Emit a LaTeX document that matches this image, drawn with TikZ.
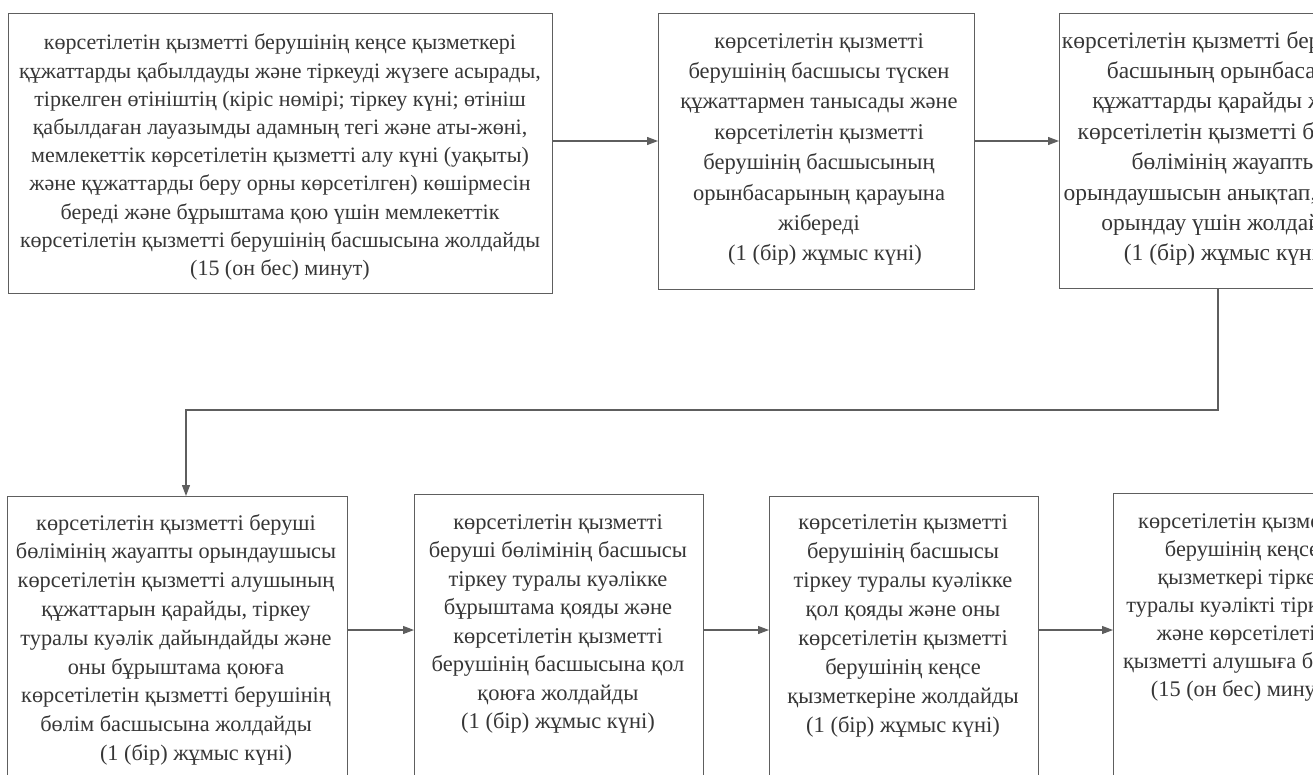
\documentclass[tikz,border=0pt]{standalone}
\usepackage{fontspec}
\setmainfont{Liberation Serif}
\usetikzlibrary{arrows.meta}
\definecolor{ln}{HTML}{5E5E5E}
\definecolor{tx}{HTML}{363636}
\begin{document}
\begin{tikzpicture}[x=1pt,y=-1pt,
  box/.style={draw=ln, line width=1.2pt, rectangle, anchor=north west, inner sep=0pt, minimum height=300pt},
  txt/.style={text=tx, align=center, inner sep=0pt, anchor=north},
  arr/.style={draw=ln, line width=1.2pt, -{Triangle[length=11pt,width=8pt]}},
  ]
\useasboundingbox (0,0) rectangle (1313,774);
\clip (0,0) rectangle (1313,774);
% top row boxes
\node[box, minimum width=544pt, minimum height=280pt] (b1) at (8,13) {};
\node[box, minimum width=316pt, minimum height=276pt] (b2) at (658,13) {};
\node[box, minimum width=330pt, minimum height=275pt] (b3) at (1059,13) {};
% bottom row boxes
\node[box, minimum width=340pt] (b4) at (7,496) {};
\node[box, minimum width=289pt] (b5) at (414,494) {};
\node[box, minimum width=269pt] (b6) at (769,496) {};
\node[box, minimum width=258pt] (b7) at (1113,493) {};
% texts
\node[txt, font=\fontsize{22}{28.2}\selectfont] (t1) at (280,34) {көрсетілетін қызметті берушінің кеңсе қызметкері\\
құжаттарды қабылдауды және тіркеуді жүзеге асырады,\\
тіркелген өтініштің (кіріс нөмірі; тіркеу күні; өтініш\\
қабылдаған лауазымды адамның тегі және аты-жөні,\\
мемлекеттік көрсетілетін қызметті алу күні (уақыты)\\
және құжаттарды беру орны көрсетілген) көшірмесін\\
береді және бұрыштама қою үшін мемлекеттік\\
көрсетілетін қызметті берушінің басшысына жолдайды\\
(15 (он бес) минут)};
\node[txt, font=\fontsize{22.5}{30.4}\selectfont] (t2) at (819,33) {көрсетілетін қызметті\\
берушінің басшысы түскен\\
құжаттармен танысады және\\
көрсетілетін қызметті\\
берушінің басшысының\\
орынбасарының қарауына\\
жібереді\\
\hspace*{12pt}(1 (бір) жұмыс күні)};
\node[txt, font=\fontsize{23.5}{30.4}\selectfont] (t3) at (1225,31) {көрсетілетін қызметті берушінің\\
басшының орынбасары\\
құжаттарды қарайды және\\
көрсетілетін қызметті беруші\\
бөлімінің жауапты\\
орындаушысын анықтап,\rule{70pt}{0pt}\\
орындау үшін жолдайды\\
(1 (бір) жұмыс күні)};
\node[txt, font=\fontsize{22.3}{28.8}\selectfont] (t4) at (176,514) {көрсетілетін қызметті беруші\\
бөлімінің жауапты орындаушысы\\
көрсетілетін қызметті алушының\\
құжаттарын қарайды, тіркеу\\
туралы куәлік дайындайды және\\
оны бұрыштама қоюға\\
көрсетілетін қызметті берушінің\\
бөлім басшысына жолдайды\\
\hspace*{40pt}(1 (бір) жұмыс күні)};
\node[txt, font=\fontsize{22.5}{28.5}\selectfont] (t5) at (558,514) {көрсетілетін қызметті\\
беруші бөлімінің басшысы\\
тіркеу туралы куәлікке\\
бұрыштама қояды және\\
көрсетілетін қызметті\\
берушінің басшысына қол\\
қоюға жолдайды\\
(1 (бір) жұмыс күні)};
\node[txt, font=\fontsize{22.5}{29}\selectfont] (t6) at (903,514) {көрсетілетін қызметті\\
берушінің басшысы\\
тіркеу туралы куәлікке\\
қол қояды және оны\\
көрсетілетін қызметті\\
берушінің кеңсе\\
қызметкеріне жолдайды\\
(1 (бір) жұмыс күні)};
\node[txt, font=\fontsize{22.3}{28}\selectfont] (t7) at (1242,514) {көрсетілетін қызметті\\
берушінің кеңсе\\
қызметкері тіркеу\\
туралы куәлікті тіркейді\\
және көрсетілетін\\
қызметті алушыға береді\\
(15 (он бес) минут)};
% connectors
\coordinate (r1) at (0,141);
\coordinate (r2) at (0,630);
\coordinate (c3) at (1218,410);
\coordinate (c4) at (186,410);
\draw[arr] (b1.east |- r1) -- (b2.west |- r1);
\draw[arr] (b2.east |- r1) -- (b3.west |- r1);
\draw[arr] (b3.south -| c3) -- (c3) -- (c4) -- (b4.north -| c4);
\draw[arr] (b4.east |- r2) -- (b5.west |- r2);
\draw[arr] (b5.east |- r2) -- (b6.west |- r2);
\draw[arr] (b6.east |- r2) -- (b7.west |- r2);
\end{tikzpicture}
\end{document}
